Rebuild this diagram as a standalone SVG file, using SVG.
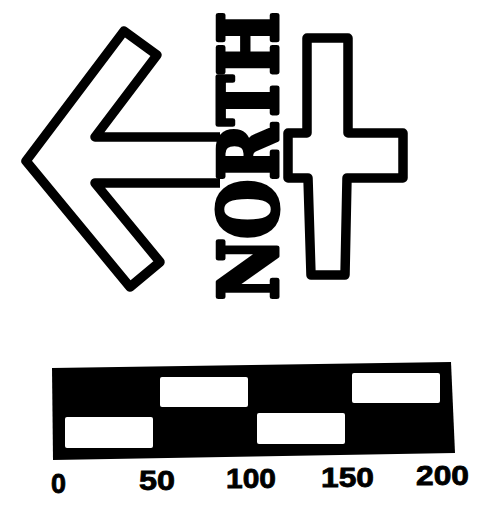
<svg xmlns="http://www.w3.org/2000/svg" width="484" height="505" viewBox="0 0 484 505">
<style>
.outline{fill:#fff;stroke:#000;stroke-width:9.5;stroke-linejoin:round;stroke-linecap:butt}
.north{font-family:"DejaVu Serif","Liberation Serif",serif;font-weight:bold;font-size:81px;fill:#000;stroke:#000;stroke-width:5;stroke-linejoin:round}
.lbl{font-family:"Liberation Sans",Arial,sans-serif;font-weight:bold;font-size:27px;fill:#000;stroke:#000;stroke-width:0.8}
.gap{fill:#fff}
</style>
<rect width="484" height="505" fill="#fff"/>
<g id="arrow">
<path class="outline" d="M220,137 L95,137 L157,55 L124,31 L26,161 L130,287 L160,262 L95,183 L220,183"/>
</g>
<g id="north-label">
<text class="north" transform="translate(277,300) rotate(-90)" textLength="288" lengthAdjust="spacingAndGlyphs">NORTH</text>
</g>
<g id="cross">
<path class="outline" d="M307,38 L348,38 L348,133 L403,133 L403,178 L347,178 L345,275 L311,275 L308,178 L288,178 L288,133 L307,133 Z"/>
</g>
<g id="scale-bar">
<polygon points="52,368 451,362 455,453 53,460" fill="#000"/>
<rect class="gap" x="65" y="417" width="88" height="31" rx="2"/>
<rect class="gap" x="160" y="377" width="88" height="30" rx="2"/>
<rect class="gap" x="257" y="413" width="88" height="31" rx="2"/>
<rect class="gap" x="352" y="373" width="88" height="30" rx="2"/>
</g>
<g id="scale-labels">
<text class="lbl" x="51" y="493" textLength="15" lengthAdjust="spacingAndGlyphs">0</text>
<text class="lbl" x="139" y="490" textLength="36" lengthAdjust="spacingAndGlyphs">50</text>
<text class="lbl" x="226" y="488" textLength="50" lengthAdjust="spacingAndGlyphs">100</text>
<text class="lbl" x="321" y="487" textLength="53" lengthAdjust="spacingAndGlyphs">150</text>
<text class="lbl" x="416" y="485" textLength="53" lengthAdjust="spacingAndGlyphs">200</text>
</g>
</svg>
